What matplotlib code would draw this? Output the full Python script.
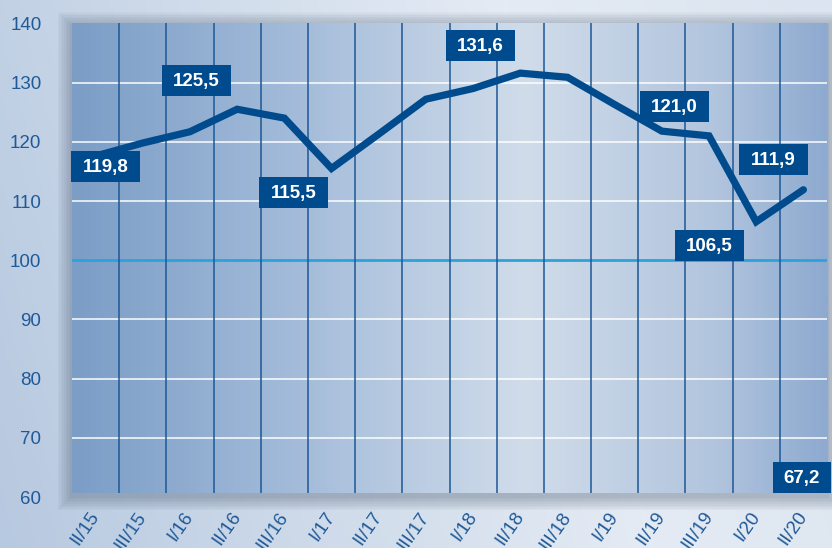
import numpy as np
import matplotlib
matplotlib.use("Agg")
import matplotlib.pyplot as plt
import matplotlib.transforms as mtransforms
from matplotlib.colors import LinearSegmentedColormap
from matplotlib.patches import Rectangle

quarters = ["II/15", "III/15", "I/16", "II/16", "III/16", "I/17", "II/17", "III/17",
            "I/18", "II/18", "III/18", "I/19", "II/19", "III/19", "I/20", "II/20"]
values = [117.6, 119.8, 121.7, 125.5, 124.0, 115.5, 121.3, 127.2,
          129.0, 131.6, 130.9, 126.3, 121.8, 121.0, 106.5, 111.9]
y_ticks = [60, 70, 80, 90, 100, 110, 120, 130, 140]

# which points get a value box, and the box text
label_idx = [1, 3, 5, 9, 13, 14, 15]
label_txt = ["119,8", "125,5", "115,5", "131,6", "121,0", "106,5", "111,9"]
extra_txt = "67,2"

# layout: box centre offset from its point, in pixels
label_off = [(-37, -24), (-41, 29), (-38, -24), (-40, 28), (-35, 29), (-47, -24), (-30, 30)]

DARK = "#004b8d"
TICK = "#1f5a98"

plt.rcParams["font.family"] = ["Liberation Sans", "DejaVu Sans"]

fig = plt.figure(figsize=(8.32, 5.48), dpi=100)

# figure background gradient
bg = fig.add_axes([0, 0, 1, 1], zorder=-10)
bg_cmap = LinearSegmentedColormap.from_list("bg", ["#b7c9e0", "#cfdbea", "#e4ebf4", "#dbe4ef"])
gx = np.linspace(0, 1, 256)
gy = np.linspace(0, 1, 64)[:, None]
bg.imshow(gx[None, :] * 0.85 + gy * 0.15, extent=(0, 1, 0, 1), aspect="auto",
          cmap=bg_cmap, origin="lower")
bg.set_xlim(0, 1)
bg.set_ylim(0, 1)
bg.axis("off")

W, H = 832, 548
pl, pr, pt, pb = 72, 827, 23.4, 493   # visible plot panel, pixels
ylo, yhi = 60, 140                   # 60 sits a few pixels below the panel edge
y_floor = 60.65                      # value at the panel's lower edge

# soft drop shadow around the plot panel
for k in range(1, 10):
    px = k * 1.6
    bg.add_patch(Rectangle(((pl - px) / W, (H - pb - px - 3) / H),
                           (pr - pl + 2 * px) / W, (pb - pt + 2 * px) / H,
                           facecolor="#3a4a60", edgecolor="none", alpha=0.04))

ax = fig.add_axes([pl / W, (H - 497) / H, (pr - pl) / W, (497 - pt) / H])
ax.set_facecolor("none")

plot_cmap = LinearSegmentedColormap.from_list(
    "plot", [(0, "#7b9dc6"), (0.3, "#a4bcda"), (0.6, "#d0dcea"), (0.85, "#b2c5de"), (1, "#8eaad0")])
ax.imshow(np.linspace(0, 1, 512)[None, :], extent=(-0.5, 15.5, y_floor, yhi + 2), aspect="auto",
          cmap=plot_cmap, zorder=0)

x = np.arange(len(quarters))
for t in y_ticks:
    if t == 100:
        ax.axhline(t, color="#2aa3dd", lw=2.0, zorder=2)
    elif y_floor < t < yhi:
        ax.axhline(t, color="white", lw=1.2, alpha=0.9, zorder=2)
ax.vlines(x[:-1] + 0.5, y_floor, yhi, color="#1d5896", lw=1.1, zorder=2)

ax.plot(x, values, color=DARK, lw=5.2, solid_capstyle="round", solid_joinstyle="miter", zorder=4)

BW, BH = 69, 31
for i, txt, (dx, dy) in zip(label_idx, label_txt, label_off):
    tr = mtransforms.Affine2D() + mtransforms.ScaledTranslation(x[i], values[i], ax.transData)
    ax.add_patch(Rectangle((dx - BW / 2, dy - BH / 2), BW, BH, transform=tr,
                           facecolor=DARK, edgecolor="none", zorder=5, clip_on=False))
    ax.annotate(txt, xy=(x[i], values[i]), xytext=(dx, dy - 1), textcoords="offset pixels",
                ha="center", va="center", color="white", fontsize=13.5, fontweight="bold",
                zorder=6, annotation_clip=False)

# box in the bottom right corner of the panel
fx0 = (773 - pl) / (pr - pl)
fw = 58 / (pr - pl)
fy0 = (497 - pb) / (497 - pt)
fh = 31 / (497 - pt)
ax.add_patch(Rectangle((fx0, fy0), fw, fh, transform=ax.transAxes,
                       facecolor=DARK, edgecolor="none", zorder=5, clip_on=False))
ax.text(fx0 + fw / 2, fy0 + fh / 2 - 0.002, extra_txt, transform=ax.transAxes, ha="center",
        va="center", color="white", fontsize=13.5, fontweight="bold", zorder=6)

ax.set_xlim(-0.5, 15.5)
ax.set_ylim(ylo, yhi)
ax.set_yticks(y_ticks)
ax.set_yticklabels([str(t) for t in y_ticks], color=TICK, fontsize=13.5)
ax.set_xticks(x)
ax.set_xticklabels(quarters, color=TICK, fontsize=13.5, rotation=55, ha="right",
                   va="center", rotation_mode="anchor")
ax.tick_params(axis="y", length=0, pad=22)
ax.tick_params(axis="x", length=0, pad=12)
for s in ax.spines.values():
    s.set_visible(False)

fig.savefig("out.png", dpi=100)
